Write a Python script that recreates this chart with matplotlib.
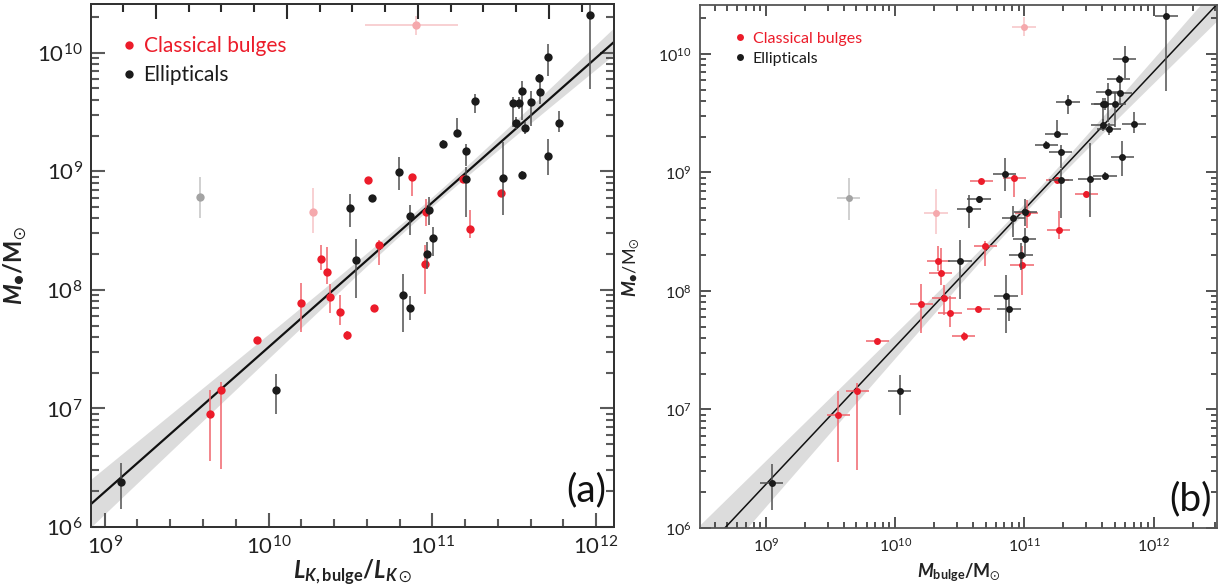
import numpy as np
import matplotlib
matplotlib.use("Agg")
import matplotlib.pyplot as plt
from matplotlib.ticker import FixedLocator, LogLocator, NullFormatter
from matplotlib.lines import Line2D

plt.rcParams['font.family'] = ['Lato', 'DejaVu Sans']
plt.rcParams['mathtext.fontset'] = 'custom'
plt.rcParams['mathtext.rm'] = 'Lato'
plt.rcParams['mathtext.it'] = 'Lato:italic'
plt.rcParams['mathtext.bf'] = 'Lato:bold'
plt.rcParams['mathtext.bfit'] = 'Lato:bold:italic'
plt.rcParams['mathtext.sf'] = 'Lato'
plt.rcParams['mathtext.fallback'] = 'stixsans'

# --- ellipticals: log L_K (panel a), log M_bulge (panel b), log M_BH, y errors (dex)
ell_logL = [11.963, 11.707, 11.650, 11.659, 11.549, 11.492, 11.528, 11.604, 11.512,
            11.567, 11.772, 11.709, 11.549, 11.429, 11.258, 11.150, 11.063, 11.205,
            11.205, 10.799, 10.632, 10.498, 10.866, 10.977, 11.002, 10.965, 10.537,
            10.819, 10.866, 10.044, 9.097]
ell_logMbul = [12.097, 11.776, 11.730, 11.742, 11.647, 11.608, 11.625, 11.698, 11.608,
               11.655, 11.847, 11.758, 11.624, 11.506, 11.338, 11.249, 11.169, 11.280,
               11.282, 10.848, 10.648, 10.571, 10.915, 11.007, 11.002, 10.974, 10.501,
               10.858, 10.881, 10.033, 9.045]
ell_logMbh = [10.32, 9.96, 9.79, 9.67, 9.678, 9.575, 9.575, 9.58, 9.403,
              9.365, 9.409, 9.129, 8.97, 8.947, 9.594, 9.325, 9.233, 9.171,
              8.933, 8.99, 8.773, 8.689, 8.619, 8.67, 8.437, 8.306, 8.25,
              7.955, 7.844, 7.157, 6.382]
ell_err_lo = [0.63, 0.16, 0.03, 0.10, 0.25, 0.20, 0.05, 0.20, 0.05,
              0.05, 0.08, 0.16, 0.03, 0.32, 0.10, 0.02, 0.03, 0.13,
              0.32, 0.15, 0.03, 0.16, 0.16, 0.12, 0.15, 0.13, 0.32,
              0.31, 0.10, 0.20, 0.23]
ell_err_hi = [0.10, 0.11, 0.03, 0.09, 0.08, 0.05, 0.05, 0.10, 0.05,
              0.05, 0.10, 0.14, 0.03, 0.30, 0.06, 0.12, 0.03, 0.06,
              0.10, 0.13, 0.03, 0.12, 0.10, 0.11, 0.09, 0.10, 0.18,
              0.18, 0.10, 0.13, 0.16]

# --- classical bulges
cb_logL = [10.607, 10.876, 11.187, 11.421, 11.228, 10.963, 10.677, 10.955, 10.319,
           10.360, 10.374, 10.197, 10.435, 10.642, 10.482, 9.930, 9.709, 9.641]
cb_logMbul = [10.665, 10.922, 11.254, 11.478, 11.265, 11.018, 10.696, 10.981, 10.332,
              10.352, 10.378, 10.203, 10.424, 10.642, 10.529, 9.862, 9.706, 9.559]
cb_logMbh = [8.928, 8.955, 8.938, 8.82, 8.516, 8.655, 8.382, 8.216, 8.256,
             8.149, 7.941, 7.886, 7.81, 7.849, 7.617, 7.575, 7.157, 6.953]
cb_err_lo = [0.02, 0.16, 0.02, 0.02, 0.08, 0.12, 0.17, 0.25, 0.09,
             0.10, 0.14, 0.24, 0.11, 0.02, 0.04, 0.02, 0.67, 0.40]
cb_err_hi = [0.02, 0.02, 0.02, 0.02, 0.16, 0.11, 0.04, 0.16, 0.12,
             0.21, 0.11, 0.17, 0.15, 0.02, 0.04, 0.02, 0.07, 0.20]

# --- omitted objects (faded): pink bulges, grey elliptical
pink_logL = [10.902, 10.27]
pink_logMbul = [10.997, 10.316]
pink_logMbh = [10.23, 8.659]
pink_err_lo = [0.08, 0.18]
pink_err_hi = [0.08, 0.20]
pink_xerr_lo_a = [0.311, 0.0]
pink_xerr_hi_a = [0.255, 0.0]
grey_logL = [9.581]
grey_logMbul = [9.64]
grey_logMbh = [8.782]
grey_err_lo = [0.18]
grey_err_hi = [0.17]

XERR_B = 0.09  # dex, bulge-mass error in panel (b)

# fits: log M_BH = norm + slope * (log x - 11)
FIT_A = (8.736, 1.22)
FIT_B = (8.69, 1.16)
BAND = (0.04, 0.095)
MSUN_K = 3.28
TOP_MAGS_MAJOR = np.arange(-28, -16, 2)
TOP_MAGS_MINOR = np.arange(-28, -16, 0.5)

RED = '#ec1c2a'
RED_ERR = '#f0646c'
BLACK = '#1b1b1b'
BLACK_ERR = '#505050'
PINK = '#f5a9ad'
GREY = '#a3a3a3'


def asym(vals, lo, hi):
    v = np.array(vals)
    return 10 ** v, [10 ** v - 10 ** (v - np.array(lo)), 10 ** (v + np.array(hi)) - 10 ** v]


def draw_panel(ax, xe, xc, xp, xg, fit, ms, lw, xerr_b):
    xs = np.linspace(8.0, 13.0, 300)
    ys = fit[0] + fit[1] * (xs - 11)
    hw = np.sqrt(BAND[0] ** 2 + (BAND[1] * (xs - 11)) ** 2)
    ax.fill_between(10 ** xs, 10 ** (ys - hw), 10 ** (ys + hw), color='#dcdcdc', lw=0, zorder=1)
    ax.plot(10 ** xs, 10 ** ys, color='#111111', lw=lw, zorder=2)

    def xerr_of(x):
        if not xerr_b:
            return None
        v = np.array(x)
        return [10 ** v - 10 ** (v - XERR_B), 10 ** (v + XERR_B) - 10 ** v]

    y, ye = asym(grey_logMbh, grey_err_lo, grey_err_hi)
    ax.errorbar(10 ** np.array(xg), y, yerr=ye, xerr=xerr_of(xg), fmt='o', color=GREY,
                ecolor='#c4c4c4', ms=ms, mew=0, elinewidth=1.1, capsize=0, zorder=3)
    y, ye = asym(pink_logMbh, pink_err_lo, pink_err_hi)
    if xerr_b:
        pxe = xerr_of(xp)
    else:
        v = np.array(xp)
        pxe = [10 ** v - 10 ** (v - np.array(pink_xerr_lo_a)),
               10 ** (v + np.array(pink_xerr_hi_a)) - 10 ** v]
    ax.errorbar(10 ** np.array(xp), y, yerr=ye, xerr=pxe, fmt='o', color=PINK,
                ecolor='#f6c4c6', ms=ms, mew=0, elinewidth=1.1, capsize=0, zorder=3)

    y, ye = asym(cb_logMbh, cb_err_lo, cb_err_hi)
    ax.errorbar(10 ** np.array(xc), y, yerr=ye, xerr=xerr_of(xc), fmt='o', color=RED,
                ecolor=RED_ERR, ms=ms, mew=0, elinewidth=1.1, capsize=0, zorder=4)
    y, ye = asym(ell_logMbh, ell_err_lo, ell_err_hi)
    ax.errorbar(10 ** np.array(xe), y, yerr=ye, xerr=xerr_of(xe), fmt='o', color=BLACK,
                ecolor=BLACK_ERR, ms=ms, mew=0, elinewidth=1.1, capsize=0, zorder=5)

    ax.set_xscale('log')
    ax.set_yscale('log')
    ax.set_ylim(1e6, 10 ** 10.41)


fig = plt.figure(figsize=(12.21, 5.88), dpi=100)

# ---------------- panel (a)
axa = fig.add_axes([0.0745, 0.1037, 0.4283, 0.8895])
draw_panel(axa, ell_logL, cb_logL, pink_logL, grey_logL, FIT_A, 6, 1.6, False)
axa.set_xlim(10 ** 8.916, 10 ** 12.109)
axa.xaxis.set_major_locator(FixedLocator([1e9, 1e10, 1e11, 1e12]))
axa.xaxis.set_minor_locator(FixedLocator(10 ** np.arange(8.8, 12.3, 0.2)))
axa.xaxis.set_minor_formatter(NullFormatter())
axa.yaxis.set_major_locator(LogLocator(base=10, numticks=10))
axa.yaxis.set_minor_locator(LogLocator(base=10, subs=np.arange(2, 10), numticks=10))
axa.yaxis.set_minor_formatter(NullFormatter())
axa.tick_params(which='both', direction='in', top=False, right=True, color='#5a5a5a',
                width=1.5, labelsize=16, labelcolor='#222222')
axa.tick_params(which='major', length=10, pad=6)
axa.tick_params(which='minor', length=6)
for s in axa.spines.values():
    s.set_color('#333333')
    s.set_linewidth(1.4)

# top axis: K-band absolute magnitude ticks (no labels)
axt = axa.twiny()
axt.set_xscale('log')
axt.set_xlim(10 ** 8.916, 10 ** 12.109)
axt.set_xticks(10 ** ((MSUN_K - TOP_MAGS_MAJOR) / 2.5), labels=[''] * len(TOP_MAGS_MAJOR))
axt.set_xticks(10 ** ((MSUN_K - TOP_MAGS_MINOR) / 2.5), minor=True)
axt.xaxis.set_minor_formatter(NullFormatter())
axt.set_xlim(10 ** 8.916, 10 ** 12.109)
axt.tick_params(axis='x', which='both', direction='in', color='#2a2a2a', width=1.5)
axt.tick_params(axis='x', which='major', length=11)
axt.tick_params(axis='x', which='minor', length=6)
for s in axt.spines.values():
    s.set_color('#333333')
    s.set_linewidth(1.4)

axa.set_xlabel(r'$\mathbfit{L}_{\mathbfit{K}\mathbf{,bulge}}\mathbf{/}\mathbfit{L}_{\mathbfit{K}\odot}$',
               fontsize=17, labelpad=-1, color='#222222')
axa.set_ylabel(r'$\mathbfit{M}_{●}\mathbf{/M}_{\odot}$', fontsize=17, labelpad=6, color='#222222')

handles = [Line2D([], [], ls='none', marker='o', ms=6, mew=0, color=RED),
           Line2D([], [], ls='none', marker='o', ms=6, mew=0, color=BLACK)]
axa.legend(handles, ['Classical bulges', 'Ellipticals'], loc='upper left',
           bbox_to_anchor=(0.025, 0.975), frameon=False, fontsize=15, handlelength=0.6,
           handletextpad=0.4, labelspacing=0.45, labelcolor=[RED, BLACK])
axa.text(0.985, 0.035, '(a)', transform=axa.transAxes, ha='right', va='bottom',
         fontsize=28, color='#111111')

# ---------------- panel (b)
axb = fig.add_axes([0.5733, 0.102, 0.4234, 0.889])
draw_panel(axb, ell_logMbul, cb_logMbul, pink_logMbul, grey_logMbul, FIT_B, 5, 1.1, True)
axb.set_xlim(10 ** 8.489, 10 ** 12.49)
for axis in (axb.xaxis, axb.yaxis):
    axis.set_major_locator(LogLocator(base=10, numticks=10))
    axis.set_minor_locator(LogLocator(base=10, subs=np.arange(2, 10), numticks=10))
    axis.set_minor_formatter(NullFormatter())
axb.tick_params(which='both', direction='in', top=True, right=True, color='#444444',
                width=1.3, labelsize=11.5, labelcolor='#222222')
axb.tick_params(which='major', length=8, pad=6)
axb.tick_params(which='minor', length=4.5)
for s in axb.spines.values():
    s.set_color('#555555')
    s.set_linewidth(1.3)
axb.set_xlabel(r'$\mathbfit{M}_{\mathbf{bulge}}\mathbf{/M}_{\odot}$', fontsize=13, labelpad=5,
               color='#222222')
axb.set_ylabel(r'$\mathbfit{M}_{●}/\mathrm{M}_{\odot}$', fontsize=13, labelpad=12,
               color='#222222')
handles = [Line2D([], [], ls='none', marker='o', ms=5, mew=0, color=RED),
           Line2D([], [], ls='none', marker='o', ms=5, mew=0, color=BLACK)]
axb.legend(handles, ['Classical bulges', 'Ellipticals'], loc='upper left',
           bbox_to_anchor=(0.04, 0.977), frameon=False, fontsize=11.5, handlelength=0.6,
           handletextpad=0.5, labelspacing=0.35, labelcolor=[RED, BLACK])
axb.text(0.99, 0.02, '(b)', transform=axb.transAxes, ha='right', va='bottom',
         fontsize=28, color='#111111')

fig.savefig('out.png', dpi=100)
